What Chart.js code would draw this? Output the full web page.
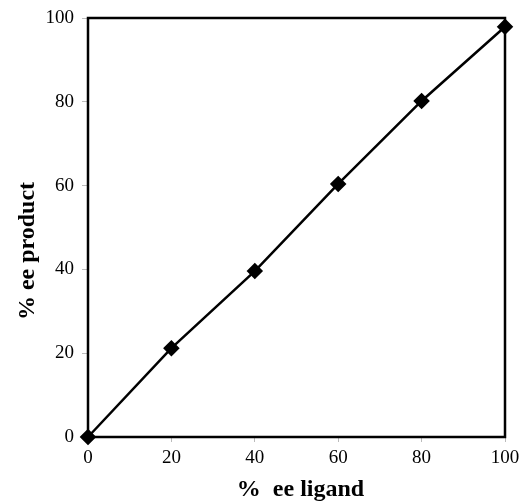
<!DOCTYPE html>
<html>
<head>
<meta charset="utf-8">
<script src="https://cdn.jsdelivr.net/npm/chart.js@4"></script>
<style>
  html, body { margin: 0; padding: 0; background: #fff; }
  #wrap { width: 522px; height: 504px; }
</style>
</head>
<body>
<div id="wrap"><canvas id="eeChart" width="522" height="504"></canvas></div>
<script>
// % ee of ligand vs % ee of product
var ligandEE = [0, 20, 40, 60, 80, 100];
var productEE = [0, 21.2, 39.6, 60.4, 80.2, 97.9];
var xTicks = [0, 20, 40, 60, 80, 100];
var yTicks = [0, 20, 40, 60, 80, 100];
var xTitle = '%  ee ligand';
var yTitle = '% ee product';

var points = ligandEE.map(function (x, i) { return { x: x, y: productEE[i] }; });

// box round the plot area + axis titles
var frame = {
  id: 'frame',
  afterDatasetsDraw: function (chart) {
    var a = chart.chartArea, ctx = chart.ctx;
    ctx.save();
    ctx.strokeStyle = '#000';
    ctx.lineWidth = 2.5;
    ctx.strokeRect(a.left, a.top, a.right - a.left, a.bottom - a.top);

    ctx.fillStyle = '#000';
    ctx.font = 'bold 24px "Liberation Serif"';
    ctx.textAlign = 'center';
    ctx.textBaseline = 'middle';
    ctx.fillText(xTitle, (a.left + a.right) / 2 + 4, 490);
    ctx.translate(28, a.bottom - 186);
    ctx.rotate(-Math.PI / 2);
    ctx.fillText(yTitle, 0, 0);
    ctx.restore();
  }
};

var ctx = document.getElementById('eeChart');
var eeChart = new Chart(ctx, {
  type: 'scatter',
  data: {
    datasets: [{
      data: points,
      showLine: true,
      borderColor: '#000',
      borderWidth: 2.5,
      backgroundColor: '#000',
      pointStyle: 'rectRot',
      pointRadius: 6.5,
      pointHoverRadius: 6.5,
      clip: false
    }]
  },
  options: {
    responsive: false,
    animation: false,
    layout: { padding: { top: 18, right: 17, left: 0, bottom: 0 } },
    plugins: { legend: { display: false }, tooltip: { enabled: false } },
    scales: {
      x: {
        min: 0, max: 100,
        afterBuildTicks: function (s) { s.ticks = xTicks.map(function (v) { return { value: v }; }); },
        afterFit: function (s) { s.height = 67; s.paddingRight = 0; s.paddingLeft = 0; },
        grid: { drawOnChartArea: false, tickLength: 5, color: '#bbb' },
        border: { display: false },
        ticks: { color: '#000', padding: 5, font: { family: 'Liberation Serif', size: 19 } },
        title: { display: false }
      },
      y: {
        min: 0, max: 100,
        afterBuildTicks: function (s) { s.ticks = yTicks.map(function (v) { return { value: v }; }); },
        afterFit: function (s) { s.width = 88; s.paddingTop = 0; s.paddingBottom = 0; },
        grid: { drawOnChartArea: false, tickLength: 6, color: '#bbb' },
        border: { display: false },
        ticks: { color: '#000', padding: 8, font: { family: 'Liberation Serif', size: 19 } },
        title: { display: false }
      }
    }
  },
  plugins: [frame]
});
</script>
</body>
</html>
